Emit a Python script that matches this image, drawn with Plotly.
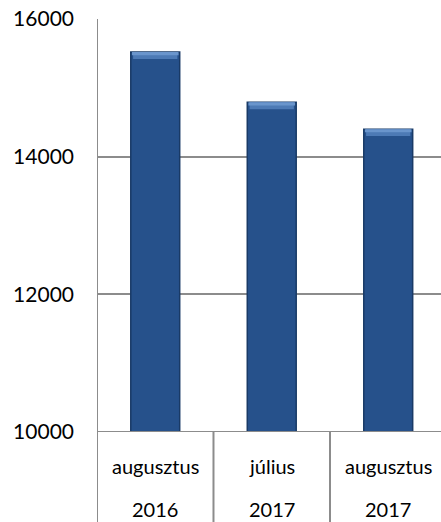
import plotly.graph_objects as go

months = ["augusztus", "július", "augusztus"]
years = ["2016", "2017", "2017"]
values = [15520, 14790, 14400]
y_ticks = [10000, 12000, 14000, 16000]

x = list(range(len(values)))
GRID = "#8c8c8c"
FONT = "Lato"

fig = go.Figure()
fig.add_trace(go.Bar(
    x=x, y=values, width=0.42,
    marker=dict(color="#26518b", line=dict(color="#193a66", width=1.5)),
    showlegend=False, hoverinfo="skip",
))
# top bevel highlight
fig.add_trace(go.Bar(
    x=x, y=[100] * len(values), base=[v - 100 for v in values], width=0.38,
    marker=dict(color="#4d7ab5", line=dict(width=0)),
    showlegend=False, hoverinfo="skip",
))
fig.add_trace(go.Bar(
    x=x, y=[45] * len(values), base=[v - 45 for v in values], width=0.4,
    marker=dict(color="#6a95cc", line=dict(width=0)),
    showlegend=False, hoverinfo="skip",
))

fig.update_layout(
    width=441, height=522,
    margin=dict(l=97, r=0, t=19, b=90),
    plot_bgcolor="white", paper_bgcolor="white",
    barmode="overlay",
    font=dict(family=FONT, size=20, color="#000000"),
    xaxis=dict(
        range=[-0.5, 2.453], showticklabels=False, showgrid=False,
        zeroline=False, showline=False, ticks="",
    ),
    yaxis=dict(
        range=[10000, 16000], tickvals=y_ticks,
        ticktext=[str(t) for t in y_ticks],
        showgrid=True, gridcolor=GRID, gridwidth=2,
        zeroline=False, showline=False, ticks="", ticklabelstandoff=22,
        tickfont=dict(family=FONT, size=21, color="#000000"),
    ),
)

bottom = -90 / 413
# left axis line and category dividers
for b in [i - 0.5 for i in range(len(values) + 1)]:
    fig.add_shape(type="line", xref="x", yref="paper", x0=b, x1=b,
                  y0=bottom, y1=(1 if b == -0.5 else 0),
                  line=dict(color=GRID, width=2), layer="above")
# baseline
fig.add_shape(type="line", xref="paper", yref="y", x0=0, x1=1, y0=10000, y1=10000,
              line=dict(color=GRID, width=2), layer="above")

for i, (m, yr) in enumerate(zip(months, years)):
    fig.add_annotation(x=i, y=-34 / 413, xref="x", yref="paper", text=m,
                       showarrow=False, font=dict(family=FONT, size=20),
                       yanchor="middle")
    fig.add_annotation(x=i, y=-77 / 413, xref="x", yref="paper", text=yr,
                       showarrow=False, font=dict(family=FONT, size=20),
                       yanchor="middle")

fig.write_html(
    "out.html",
    config={"displayModeBar": False},
    post_script="document.body.style.margin='0';document.body.style.overflow='hidden';",
)
